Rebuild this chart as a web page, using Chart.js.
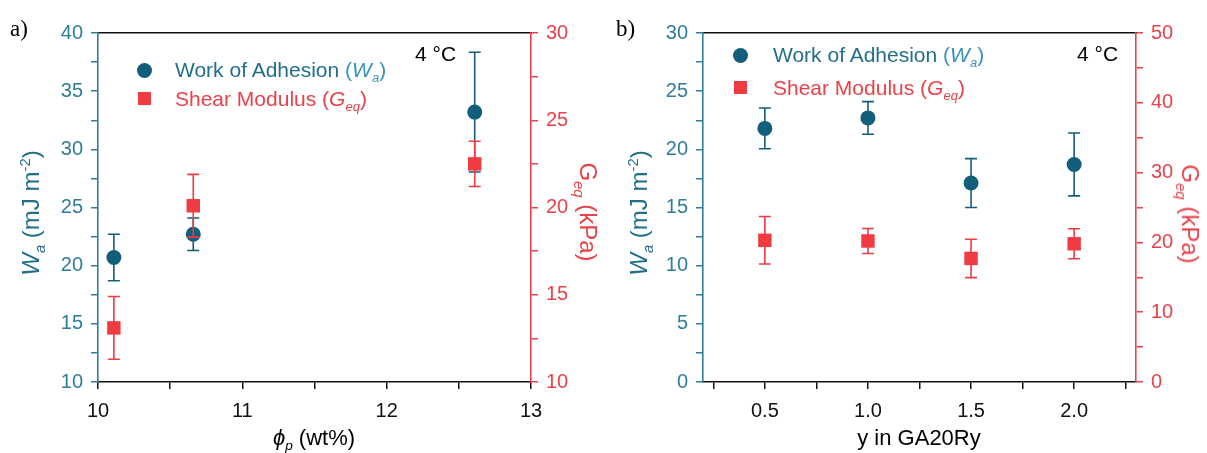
<!DOCTYPE html>
<html lang="en">
<head>
<meta charset="UTF-8">
<title>Wa / Geq</title>
<script src="https://cdn.jsdelivr.net/npm/chart.js"></script>
<style>
  body { margin:0; background:#fff; }
  #wrap { position:relative; width:1207px; height:453px; overflow:hidden; font-family:"Liberation Sans", Arial, sans-serif; }
  .pane { position:absolute; top:0; }
  .txt { position:absolute; white-space:nowrap; line-height:1; }
  .rot { transform:translate(-50%,-50%) rotate(-90deg); }
  .rotR { transform:translate(-50%,-50%) rotate(90deg); }
  .ctr { transform:translate(-50%,-50%); }
  .teal { color:#236f8b; }
  .red { color:#e8424a; }
  .lite { color:#3b93b3; }
  sub, sup { font-size:62%; line-height:0; }
  .mk { position:absolute; }
</style>
</head>
<body>
<div id="wrap">
  <div class="pane" style="left:0; width:600px; height:453px;"><canvas id="chartA" width="600" height="453"></canvas></div>
  <div class="pane" style="left:605px; width:602px; height:453px;"><canvas id="chartB" width="602" height="453"></canvas></div>

  <!-- panel a text -->
  <div class="txt" style="left:10px; top:17px; font-family:'Liberation Serif',serif; font-size:23px;">a)</div>
  <div class="txt teal rot" style="left:31px; top:213px; font-size:24px;"><i>W</i><sub><i>a</i></sub> (mJ m<sup>-2</sup>)</div>
  <div class="txt red rotR" style="left:588px; top:212px; font-size:24px;">G<sub><i>eq</i></sub> (kPa)</div>
  <div class="txt ctr" style="left:314px; top:438px; font-size:22px;"><i>ϕ</i><sub><i>p</i></sub> (wt%)</div>
  <div class="txt" style="left:415px; top:43px; font-size:21px;">4 °C</div>
  <div class="mk" style="left:137px; top:63px; width:15px; height:15px; border-radius:50%; background:#135e7a;"></div>
  <div class="mk" style="left:138px; top:92px; width:13px; height:13px; background:#ef3b41;"></div>
  <div class="txt teal" style="left:175px; top:59px; font-size:21px;">Work of Adhesion <span class="lite">(<i>W</i><sub><i>a</i></sub>)</span></div>
  <div class="txt red" style="left:175px; top:88px; font-size:21px;">Shear Modulus (<i>G</i><sub><i>eq</i></sub>)</div>

  <!-- panel b text -->
  <div class="txt" style="left:616px; top:17px; font-family:'Liberation Serif',serif; font-size:23px;">b)</div>
  <div class="txt teal rot" style="left:639px; top:213px; font-size:24px;"><i>W</i><sub><i>a</i></sub> (mJ m<sup>-2</sup>)</div>
  <div class="txt red rotR" style="left:1190px; top:214px; font-size:24px;">G<sub><i>eq</i></sub> (kPa)</div>
  <div class="txt ctr" style="left:919px; top:438px; font-size:22px;">y in GA20Ry</div>
  <div class="txt" style="left:1077px; top:43px; font-size:21px;">4 °C</div>
  <div class="mk" style="left:733px; top:48px; width:15px; height:15px; border-radius:50%; background:#135e7a;"></div>
  <div class="mk" style="left:734px; top:81px; width:13px; height:13px; background:#ef3b41;"></div>
  <div class="txt teal" style="left:773px; top:44px; font-size:21px;">Work of Adhesion <span class="lite">(<i>W</i><sub><i>a</i></sub>)</span></div>
  <div class="txt red" style="left:773px; top:77px; font-size:21px;">Shear Modulus (<i>G</i><sub><i>eq</i></sub>)</div>
</div>

<script>
// ---- panel a data ----
const phiP      = [10.11, 10.66, 12.61];
const waA       = [20.7, 22.7, 33.2];
const waErrA    = [2.0, 1.4, 5.15];
const geqA      = [13.1, 20.1, 22.5];
const geqErrA   = [1.8, 1.8, 1.3];

// ---- panel b data ----
const yGA       = [0.5, 1.0, 1.5, 2.0];
const waB       = [21.8, 22.7, 17.1, 18.7];
const waErrB    = [1.75, 1.4, 2.1, 2.7];
const geqB      = [20.3, 20.2, 17.7, 19.8];
const geqErrB   = [3.4, 1.8, 2.75, 2.15];

// ---- ticks ----
const aXTicks   = [10, 10.5, 11, 11.5, 12, 12.5, 13];
const aXLabels  = ['10', '', '11', '', '12', '', '13'];
const aYTicks   = [10, 12.5, 15, 17.5, 20, 22.5, 25, 27.5, 30, 32.5, 35, 37.5, 40];
const aYLabels  = ['10', '', '15', '', '20', '', '25', '', '30', '', '35', '', '40'];
const aY2Ticks  = [10, 12.5, 15, 17.5, 20, 22.5, 25, 27.5, 30];
const aY2Labels = ['10', '', '15', '', '20', '', '25', '', '30'];
const bXTicks   = [0.25, 0.5, 0.75, 1.0, 1.25, 1.5, 1.75, 2.0, 2.25];
const bXLabels  = ['', '0.5', '', '1.0', '', '1.5', '', '2.0', ''];
const bYTicks   = [0, 2.5, 5, 7.5, 10, 12.5, 15, 17.5, 20, 22.5, 25, 27.5, 30];
const bYLabels  = ['0', '', '5', '', '10', '', '15', '', '20', '', '25', '', '30'];
const bY2Ticks  = [0, 5, 10, 15, 20, 25, 30, 35, 40, 45, 50];
const bY2Labels = ['0', '', '10', '', '20', '', '30', '', '40', '', '50'];

const TEAL = '#135e7a', TEAL_AX = '#2f7d98', RED = '#ef3b41', RED_AX = '#e8424a';

// error bars drawn just before each dataset's markers
const errorBars = {
  id: 'errorBars',
  beforeDatasetDraw(chart, args) {
    const ds = chart.data.datasets[args.index];
    if (!ds.errors) return;
    const ys = chart.scales[ds.yAxisID];
    const ctx = chart.ctx;
    ctx.save();
    ctx.strokeStyle = ds.borderColor;
    ctx.lineWidth = 1.6;
    args.meta.data.forEach((pt, i) => {
      const v = ds.data[i].y, e = ds.errors[i];
      const t = ys.getPixelForValue(v + e), b = ys.getPixelForValue(v - e);
      ctx.beginPath();
      ctx.moveTo(pt.x, t); ctx.lineTo(pt.x, b);
      ctx.moveTo(pt.x - 6, t); ctx.lineTo(pt.x + 6, t);
      ctx.moveTo(pt.x - 6, b); ctx.lineTo(pt.x + 6, b);
      ctx.stroke();
    });
    ctx.restore();
  }
};

const pts = (xs, ys) => xs.map((x, i) => ({x: x, y: ys[i]}));
const fixTicks = vals => scale => { scale.ticks = vals.map(v => ({value: v})); };
const tickFont = {family: 'Liberation Sans', size: 20};

function makeChart(id, o) {
  new Chart(document.getElementById(id), {
    type: 'scatter',
    data: {
      datasets: [
        {label: 'Wa', data: pts(o.x, o.wa), errors: o.waErr, yAxisID: 'y', order: 2,
         pointStyle: 'circle', pointRadius: 7.5, backgroundColor: TEAL, borderColor: TEAL, borderWidth: 0},
        {label: 'Geq', data: pts(o.x, o.geq), errors: o.geqErr, yAxisID: 'y2', order: 1,
         pointStyle: 'rect', pointRadius: 9.5, backgroundColor: RED, borderColor: RED, borderWidth: 0}
      ]
    },
    options: {
      responsive: false,
      animation: false,
      events: [],
      layout: {padding: 0},
      plugins: {legend: {display: false}, tooltip: {enabled: false}},
      scales: {
        x: {
          type: 'linear', position: 'bottom', min: o.xMin, max: o.xMax,
          afterBuildTicks: fixTicks(o.xTicks),
          afterFit: s => { s.height = 71; },
          ticks: {color: '#111', font: tickFont, padding: 10, maxRotation: 0, autoSkip: false,
                  callback: (v, i) => o.xLabels[i]},
          grid: {drawOnChartArea: false, tickLength: 7, color: '#111', lineWidth: 1.5},
          border: {color: '#111', width: 1.6}
        },
        xTop: {
          type: 'linear', position: 'top', min: o.xMin, max: o.xMax,
          afterFit: s => { s.height = 33; },
          ticks: {display: false},
          grid: {display: false},
          border: {color: '#111', width: 1.6}
        },
        y: {
          type: 'linear', position: 'left', min: o.yMin, max: o.yMax,
          afterBuildTicks: fixTicks(o.yTicks),
          afterFit: s => { s.width = o.leftW; },
          ticks: {color: TEAL_AX, font: tickFont, padding: 8, autoSkip: false,
                  callback: (v, i) => o.yLabels[i]},
          grid: {drawOnChartArea: false, tickLength: 7, color: TEAL_AX, lineWidth: 1.5},
          border: {color: TEAL_AX, width: 1.6}
        },
        y2: {
          type: 'linear', position: 'right', min: o.y2Min, max: o.y2Max,
          afterBuildTicks: fixTicks(o.y2Ticks),
          afterFit: s => { s.width = o.rightW; },
          ticks: {color: RED_AX, font: tickFont, padding: 8, autoSkip: false,
                  callback: (v, i) => o.y2Labels[i]},
          grid: {drawOnChartArea: false, tickLength: 7, color: RED_AX, lineWidth: 1.5},
          border: {color: RED_AX, width: 1.6}
        }
      }
    },
    plugins: [errorBars]
  });
}

makeChart('chartA', {
  x: phiP, wa: waA, waErr: waErrA, geq: geqA, geqErr: geqErrA,
  xMin: 10, xMax: 13, xTicks: aXTicks, xLabels: aXLabels,
  yMin: 10, yMax: 40, yTicks: aYTicks, yLabels: aYLabels,
  y2Min: 10, y2Max: 30, y2Ticks: aY2Ticks, y2Labels: aY2Labels,
  leftW: 98, rightW: 69
});

makeChart('chartB', {
  x: yGA, wa: waB, waErr: waErrB, geq: geqB, geqErr: geqErrB,
  xMin: 0.2, xMax: 2.3, xTicks: bXTicks, xLabels: bXLabels,
  yMin: 0, yMax: 30, yTicks: bYTicks, yLabels: bYLabels,
  y2Min: 0, y2Max: 50, y2Ticks: bY2Ticks, y2Labels: bY2Labels,
  leftW: 98, rightW: 71
});
</script>
</body>
</html>
